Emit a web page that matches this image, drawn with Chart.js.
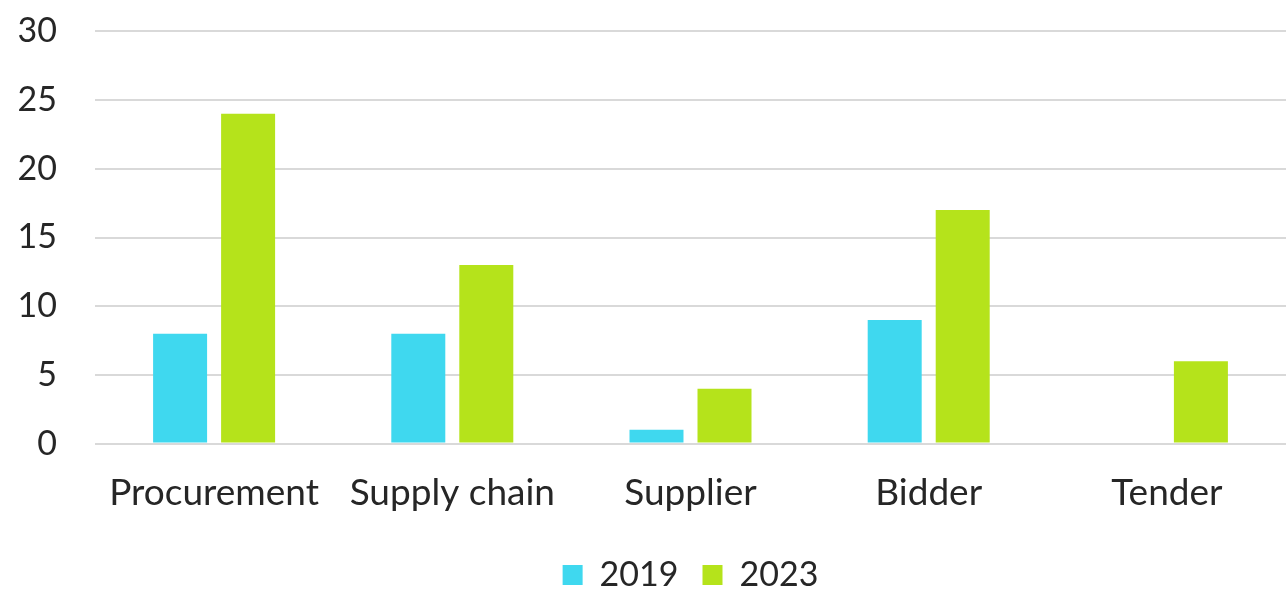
<!DOCTYPE html>
<html><head><meta charset="utf-8">
<script src="https://cdn.jsdelivr.net/npm/chart.js@4/dist/chart.umd.min.js"></script>
<style>html,body{margin:0;padding:0;background:#fff}#wrap{width:1286px;height:590px;position:relative}</style>
</head><body><div id="wrap"><canvas id="c"></canvas></div>
<script>
const categories = ["Procurement", "Supply chain", "Supplier", "Bidder", "Tender"];
const values2019 = [8, 8, 1, 9, 0];
const values2023 = [24, 13, 4, 17, 6];
const yTicks = [0, 5, 10, 15, 20, 25, 30];
const FONT = "Lato, 'Open Sans', sans-serif";
new Chart(document.getElementById('c'), {
  type: 'bar',
  data: {
    labels: categories,
    datasets: [
      {label: '2019', data: values2019, backgroundColor: '#3fd8ef', categoryPercentage: 0.571, barPercentage: 0.794},
      {label: '2023', data: values2023, backgroundColor: '#b5e31b', categoryPercentage: 0.571, barPercentage: 0.794}
    ]
  },
  options: {
    responsive: true, maintainAspectRatio: false, animation: false,
    layout: {padding: 0},
    plugins: {
      legend: {position: 'bottom', fullSize: false, maxHeight: 56, labels: {font: {family: FONT, size: 34}, color: '#262626', boxWidth: 20, boxHeight: 20, padding: 24}},
      tooltip: {enabled: false}
    },
    scales: {
      x: {grid: {display: false}, border: {display: false},
          ticks: {font: {family: FONT, size: 37}, color: '#262626', padding: 19, maxRotation: 0}},
      y: {min: 0, max: 30, afterBuildTicks: (a) => { a.ticks = yTicks.map(v => ({value: v})); },
          afterFit: (a) => { a.width = 95; },
          grid: {color: '#d9d9d9', lineWidth: 2, drawTicks: true, tickLength: 27, tickColor: 'rgba(0,0,0,0)'}, border: {display: false},
          ticks: {font: {family: FONT, size: 34}, color: '#262626', padding: 11}}
    }
  }
});
</script></body></html>
